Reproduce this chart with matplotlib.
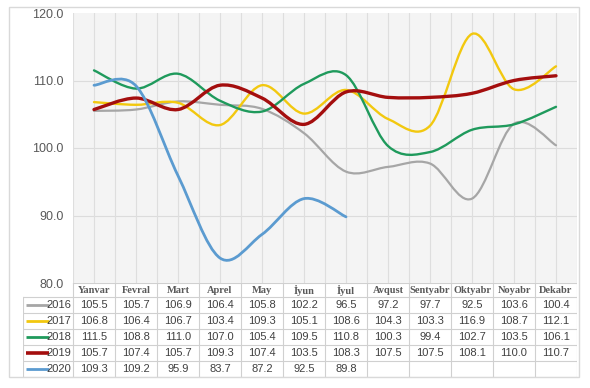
import matplotlib
matplotlib.use("Agg")
import matplotlib.pyplot as plt
from matplotlib.path import Path
from matplotlib.patches import PathPatch, Rectangle
import numpy as np

months = ["Yanvar", "Fevral", "Mart", "Aprel", "May", "İyun", "İyul",
          "Avqust", "Sentyabr", "Oktyabr", "Noyabr", "Dekabr"]
years = ["2016", "2017", "2018", "2019", "2020"]
v2016 = [105.5, 105.7, 106.9, 106.4, 105.8, 102.2, 96.5, 97.2, 97.7, 92.5, 103.6, 100.4]
v2017 = [106.8, 106.4, 106.7, 103.4, 109.3, 105.1, 108.6, 104.3, 103.3, 116.9, 108.7, 112.1]
v2018 = [111.5, 108.8, 111.0, 107.0, 105.4, 109.5, 110.8, 100.3, 99.4, 102.7, 103.5, 106.1]
v2019 = [105.7, 107.4, 105.7, 109.3, 107.4, 103.5, 108.3, 107.5, 107.5, 108.1, 110.0, 110.7]
v2020 = [109.3, 109.2, 95.9, 83.7, 87.2, 92.5, 89.8]
series = [v2016, v2017, v2018, v2019, v2020]
colors = ["#a6a6a6", "#f2c80f", "#1f9a5c", "#a40e0e", "#5b9bd0"]
widths = [1.6, 1.7, 1.7, 2.4, 2.0]

W, H = 590, 388
fig = plt.figure(figsize=(W / 100, H / 100), dpi=100)

def fx(px):
    return px / W

def fy(py):
    return 1 - py / H

# outer border
fig.patches.append(Rectangle((fx(9), fy(377)), fx(579) - fx(9), fy(7) - fy(377),
                             transform=fig.transFigure, fill=False,
                             edgecolor="#d9d9d9", linewidth=1.0))

L, R, T, B = 73, 577, 13, 283
ax = fig.add_axes([fx(L), fy(B), fx(R) - fx(L), fy(T) - fy(B)])
ax.set_facecolor("#f4f4f4")
ax.set_xlim(-0.5, 11.5)
ax.set_ylim(80, 120)
for s in ax.spines.values():
    s.set_visible(False)
ax.set_xticks([])
yt = [80, 90, 100, 110, 120]
ax.set_yticks(yt)
ax.set_yticklabels([f"{v:.1f}" for v in yt], fontsize=9, color="#595959",
                   family="Liberation Sans")
ax.tick_params(axis="y", length=0, pad=7)
for v in [90, 100, 110]:
    ax.axhline(v, color="#dcdcdc", linewidth=0.8, zorder=1)
for k in np.arange(-0.5, 11.6, 0.5):
    ax.axvline(k, color="#dedede", linewidth=0.8, zorder=1)

def smooth_path(xs, ys):
    pts = np.column_stack([xs, ys]).astype(float)
    n = len(pts)
    verts = [pts[0]]
    codes = [Path.MOVETO]
    for i in range(n - 1):
        p0 = pts[i - 1] if i > 0 else pts[i]
        p1 = pts[i]
        p2 = pts[i + 1]
        p3 = pts[i + 2] if i + 2 < n else pts[i + 1]
        c1 = p1 + (p2 - p0) / 6.0
        c2 = p2 - (p3 - p1) / 6.0
        verts += [c1, c2, p2]
        codes += [Path.CURVE4] * 3
    return Path(verts, codes)

for vals, c, lw in zip(series, colors, widths):
    xs = np.arange(len(vals))
    p = smooth_path(xs, vals)
    ax.add_patch(PathPatch(p, facecolor="none", edgecolor=c, linewidth=lw,
                           zorder=3, capstyle="round"))

# table
TL, TB = 23, 377
tax = fig.add_axes([fx(TL), fy(TB), fx(R) - fx(TL), fy(B) - fy(TB)])
scale = 12.0 / (R - L)
xleft = -0.5 - (L - TL) * scale
tax.set_xlim(xleft, 11.5)
tax.set_ylim(TB, B)
tax.axis("off")
gc = "#d0d0d0"
hdr_bot = 297
row_edges = [297, 313, 329, 345, 361, 377]
tax.plot([-0.5, 11.5], [B, B], color=gc, lw=0.8)
for yv in row_edges:
    tax.plot([xleft, 11.5], [yv, yv], color=gc, lw=0.8)
tax.plot([xleft, xleft], [hdr_bot, TB], color=gc, lw=0.8)
for k in np.arange(-0.5, 12.0, 1.0):
    tax.plot([k, k], [B, TB], color=gc, lw=0.8)

for i, m in enumerate(months):
    tax.text(i, (B + hdr_bot) / 2 + 0.5, m, ha="center", va="center",
             fontsize=7.5, fontweight="bold", family="Liberation Serif",
             color="#595959")

for r, (y, vals, c) in enumerate(zip(years, series, colors)):
    yc = (row_edges[r] + row_edges[r + 1]) / 2
    x0 = xleft + 3 * scale
    tax.plot([x0, x0 + 23 * scale], [yc, yc], color=c,
             lw=2.0 if r != 3 else 2.6, solid_capstyle="butt")
    tax.text(-0.5 - 2 * scale, yc, y, ha="right", va="center", fontsize=8,
             color="#404040", family="Liberation Sans")
    for i, v in enumerate(vals):
        tax.text(i, yc, f"{v:.1f}", ha="center", va="center", fontsize=8,
                 color="#404040", family="Liberation Sans")

fig.savefig("out.png", dpi=100)
